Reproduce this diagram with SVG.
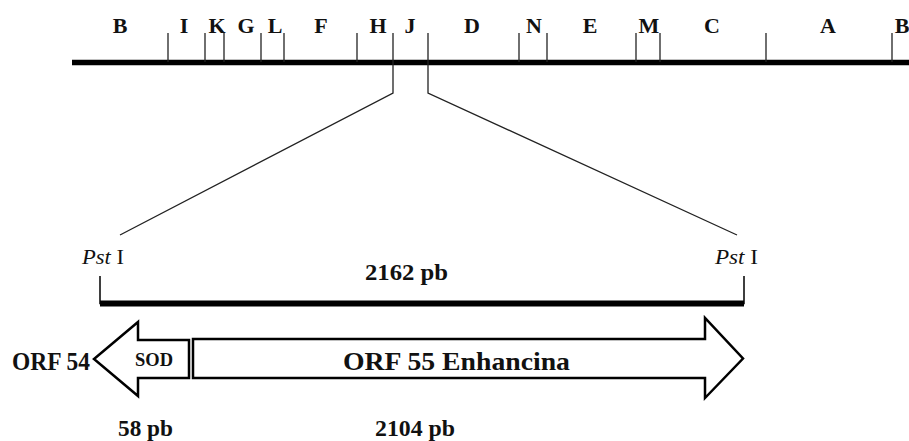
<svg xmlns="http://www.w3.org/2000/svg" width="909" height="441" viewBox="0 0 909 441">
<style>
.lab{font-family:"Liberation Serif","Times New Roman",serif;font-weight:bold;fill:#111;}
.top{font-size:22px;text-anchor:middle;}
.pst{font-family:"Liberation Serif","Times New Roman",serif;font-size:21px;fill:#111;}
.tick{stroke:#222;stroke-width:1.3;fill:none;}
.thick{stroke:#000;fill:none;}
.arrow{fill:#fff;stroke:#000;stroke-width:2.5;stroke-linejoin:miter;}
</style>
<rect width="909" height="441" fill="#fff"/>
<g id="genome-map">
<line class="thick" x1="72" y1="62.5" x2="909" y2="62.5" stroke-width="5.5"/>
<g class="tick">
<line x1="168" y1="33" x2="168" y2="62"/>
<line x1="205" y1="33" x2="205" y2="62"/>
<line x1="224" y1="33" x2="224" y2="62"/>
<line x1="261" y1="33" x2="261" y2="62"/>
<line x1="284" y1="33" x2="284" y2="62"/>
<line x1="357" y1="33" x2="357" y2="62"/>
<line x1="519" y1="33" x2="519" y2="62"/>
<line x1="547" y1="33" x2="547" y2="62"/>
<line x1="636" y1="33" x2="636" y2="62"/>
<line x1="660" y1="33" x2="660" y2="62"/>
<line x1="766" y1="33" x2="766" y2="62"/>
<line x1="892" y1="33" x2="892" y2="62"/>
</g>
<g class="lab top">
<text x="120" y="33">B</text>
<text x="184" y="33">I</text>
<text x="217" y="33">K</text>
<text x="246" y="33">G</text>
<text x="275" y="33">L</text>
<text x="321" y="33">F</text>
<text x="378" y="33">H</text>
<text x="410" y="33">J</text>
<text x="472" y="33">D</text>
<text x="534" y="33">N</text>
<text x="590" y="33">E</text>
<text x="649" y="33">M</text>
<text x="712" y="33">C</text>
<text x="828" y="33">A</text>
<text x="902" y="33">B</text>
</g>
</g>
<g id="connectors" class="tick">
<polyline points="393,33 393,93 120,235"/>
<polyline points="428,33 428,93 737,235"/>
</g>
<g id="fragment">
<polyline class="thick" points="100,276 100,303.5 744,303.5 744,276" stroke-width="1.5"/>
<line class="thick" x1="100" y1="303.5" x2="744" y2="303.5" stroke-width="6"/>
<text class="pst" x="82" y="264" textLength="42" lengthAdjust="spacingAndGlyphs"><tspan font-style="italic">Pst</tspan> I</text>
<text class="pst" x="715" y="264" textLength="43" lengthAdjust="spacingAndGlyphs"><tspan font-style="italic">Pst</tspan> I</text>
<text class="lab" x="365" y="280" font-size="23" textLength="83" lengthAdjust="spacingAndGlyphs">2162 pb</text>
</g>
<g id="orf54">
<polygon class="arrow" points="189,340 138,340 138,322 94,359 138,396 138,378 189,378"/>
<text class="lab" x="135" y="366" font-size="18" textLength="38" lengthAdjust="spacingAndGlyphs">SOD</text>
<text class="lab" x="12" y="370" font-size="25" textLength="78" lengthAdjust="spacingAndGlyphs">ORF 54</text>
<text class="lab" x="118" y="436" font-size="23" textLength="55" lengthAdjust="spacingAndGlyphs">58 pb</text>
</g>
<g id="orf55">
<polygon class="arrow" points="193,339 705,339 705,318 743,358.5 705,398 705,378 193,378"/>
<text class="lab" x="343" y="370" font-size="26" textLength="227" lengthAdjust="spacingAndGlyphs">ORF 55 Enhancina</text>
<text class="lab" x="375" y="436" font-size="23" textLength="80" lengthAdjust="spacingAndGlyphs">2104 pb</text>
</g>
</svg>
